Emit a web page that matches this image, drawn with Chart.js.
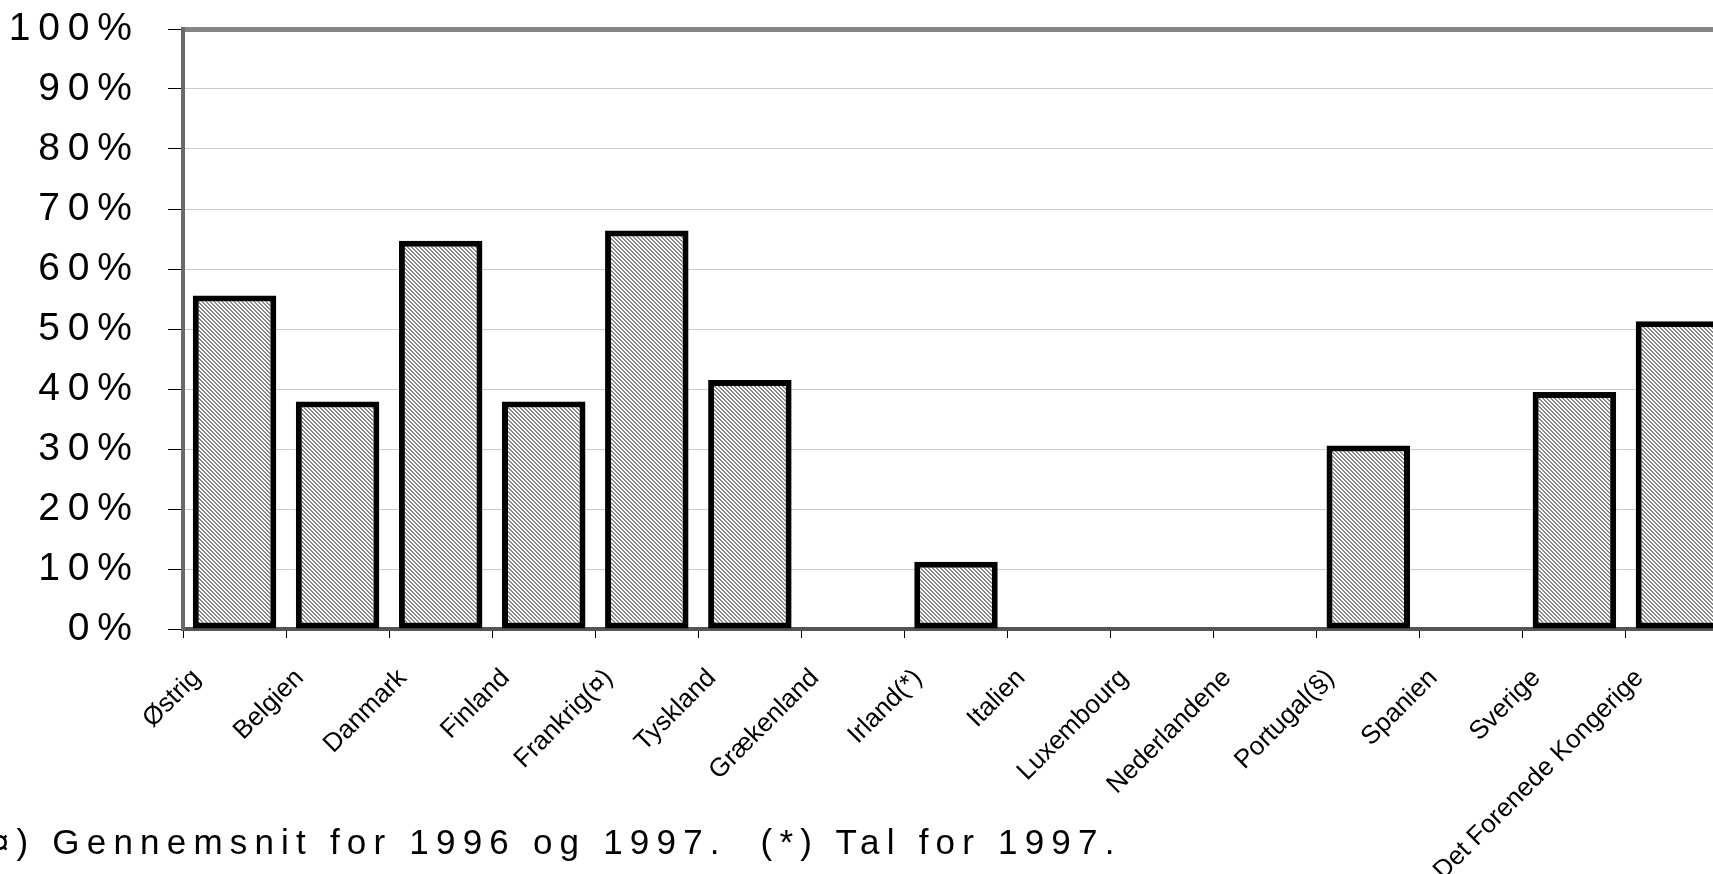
<!DOCTYPE html>
<html>
<head>
<meta charset="utf-8">
<script src="https://cdn.jsdelivr.net/npm/chart.js@4"></script>
<style>
  html, body { margin: 0; padding: 0; background: #fff; overflow: hidden; }
  #wrap { position: absolute; left: 0; top: 0; width: 1740px; height: 874px; }
  #note {
    position: absolute; left: -29px; top: 824px;
    font: 35px/35px "Liberation Sans", Arial, sans-serif;
    letter-spacing: 7.2px; white-space: pre; color: #000;
  }
</style>
</head>
<body>
<div id="wrap"><canvas id="chart-1" width="1740" height="874"></canvas></div>
<div id="note">(¤) Gennemsnit for 1996 og 1997.  (*) Tal for 1997.</div>
<script>
const ctx1 = document.getElementById('chart-1');

var countries = ['Østrig', 'Belgien', 'Danmark', 'Finland', 'Frankrig(¤)', 'Tyskland', 'Grækenland',
    'Irland(*)', 'Italien', 'Luxembourg', 'Nederlandene', 'Portugal(§)', 'Spanien', 'Sverige',
    'Det Forenede Kongerige'];
var shares = [55.6, 37.9, 64.7, 37.9, 66.4, 41.5, null, 11.2, null, null, null, 30.6, null, 39.5, 51.3];

// fine gray hatch like the old excel fill
var tile = document.createElement('canvas');
tile.width = 4;
tile.height = 4;
var tc = tile.getContext('2d');
tc.fillStyle = '#ffffff';
tc.fillRect(0, 0, 4, 4);
tc.fillStyle = '#8a8a8a';
for (var y = 0; y < 4; y++) {
    for (var x = 0; x < 4; x++) {
        if ((((x - y) % 4) + 4) % 4 < 2) tc.fillRect(x, y, 1, 1);
    }
}
var hatch = tc.createPattern(tile, 'repeat');

new Chart(ctx1, {
    type: 'bar',
    data: {
        labels: countries,
        datasets: [{
            data: shares,
            backgroundColor: hatch,
            borderColor: '#000',
            borderWidth: 6,
            borderSkipped: false,
            barPercentage: 0.81,
            categoryPercentage: 1.0
        }]
    },
    options: {
        responsive: false,
        animation: false,
        layout: { padding: { top: 29, right: 11, bottom: 0, left: 0 } },
        plugins: {
            legend: { display: false },
            tooltip: { enabled: false }
        },
        scales: {
            x: {
                afterFit: function (axis) {
                    axis.height = 245;
                    axis.paddingLeft = 0;
                    axis.paddingRight = 0;
                },
                border: { color: '#555', width: 4 },
                grid: {
                    drawOnChartArea: false,
                    tickColor: '#000',
                    tickWidth: 1,
                    tickLength: 9
                },
                ticks: {
                    color: '#000',
                    font: { family: 'Liberation Sans', size: 26 },
                    minRotation: 45,
                    maxRotation: 45,
                    autoSkip: false,
                    labelOffset: -38,
                    padding: 25
                }
            },
            y: {
                min: 0,
                max: 100,
                afterFit: function (axis) {
                    axis.width = 183;
                    axis.paddingTop = 0;
                    axis.paddingBottom = 0;
                },
                border: { color: '#6a6a6a', width: 4 },
                grid: {
                    color: c => (c.tick && c.tick.value === 100) ? '#858585' : '#cccccc',
                    lineWidth: c => (c.tick && c.tick.value === 100) ? 5 : 1,
                    tickColor: '#000',
                    tickWidth: 1,
                    tickLength: 15
                },
                ticks: {
                    stepSize: 10,
                    color: '#000',
                    padding: 36,
                    font: { family: 'Liberation Sans', size: 39 },
                    callback: v => String(v).split('').join('\u2009') + '\u2009%'
                }
            }
        }
    }
});
</script>
</body>
</html>
